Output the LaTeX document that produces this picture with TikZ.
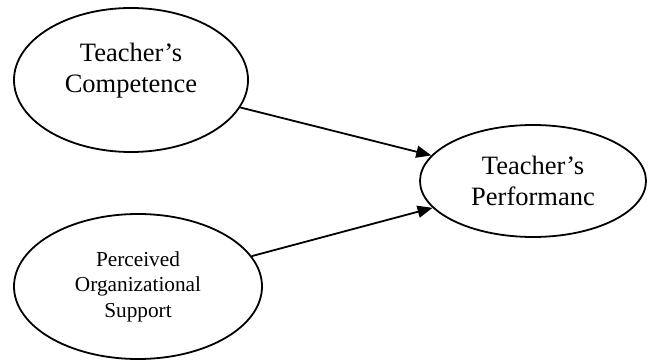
\documentclass[tikz,border=0pt]{standalone}
\usepackage{fontspec}
\setmainfont{Liberation Serif}
\usetikzlibrary{shapes.geometric, arrows.meta}

\begin{document}
\begin{tikzpicture}[x=1pt, y=1pt, line width=1.8pt,
    construct/.style={draw, ellipse, inner sep=0pt, align=center}]
  \useasboundingbox (0,0) rectangle (653,362);

  \node (comp) [construct, minimum width=234pt, minimum height=144pt, text depth=24pt,
                font=\fontsize{26.5}{31}\selectfont] at (131,282) {Teacher's\\Competence};
  \node (pos)  [construct, minimum width=248pt, minimum height=145pt,
                font=\fontsize{21.3}{25.5}\selectfont] at (138,75.5) {Perceived\\Organizational\\Support};
  \node (perf) [construct, minimum width=226pt, minimum height=112pt,
                font=\fontsize{26.5}{31}\selectfont] at (533,181) {Teacher's\\Performanc};

  \draw [-{Triangle[length=15pt, width=12pt]}] (comp) -- (perf);
  \draw [-{Triangle[length=15pt, width=12pt]}] (pos) -- (perf);
\end{tikzpicture}
\end{document}
